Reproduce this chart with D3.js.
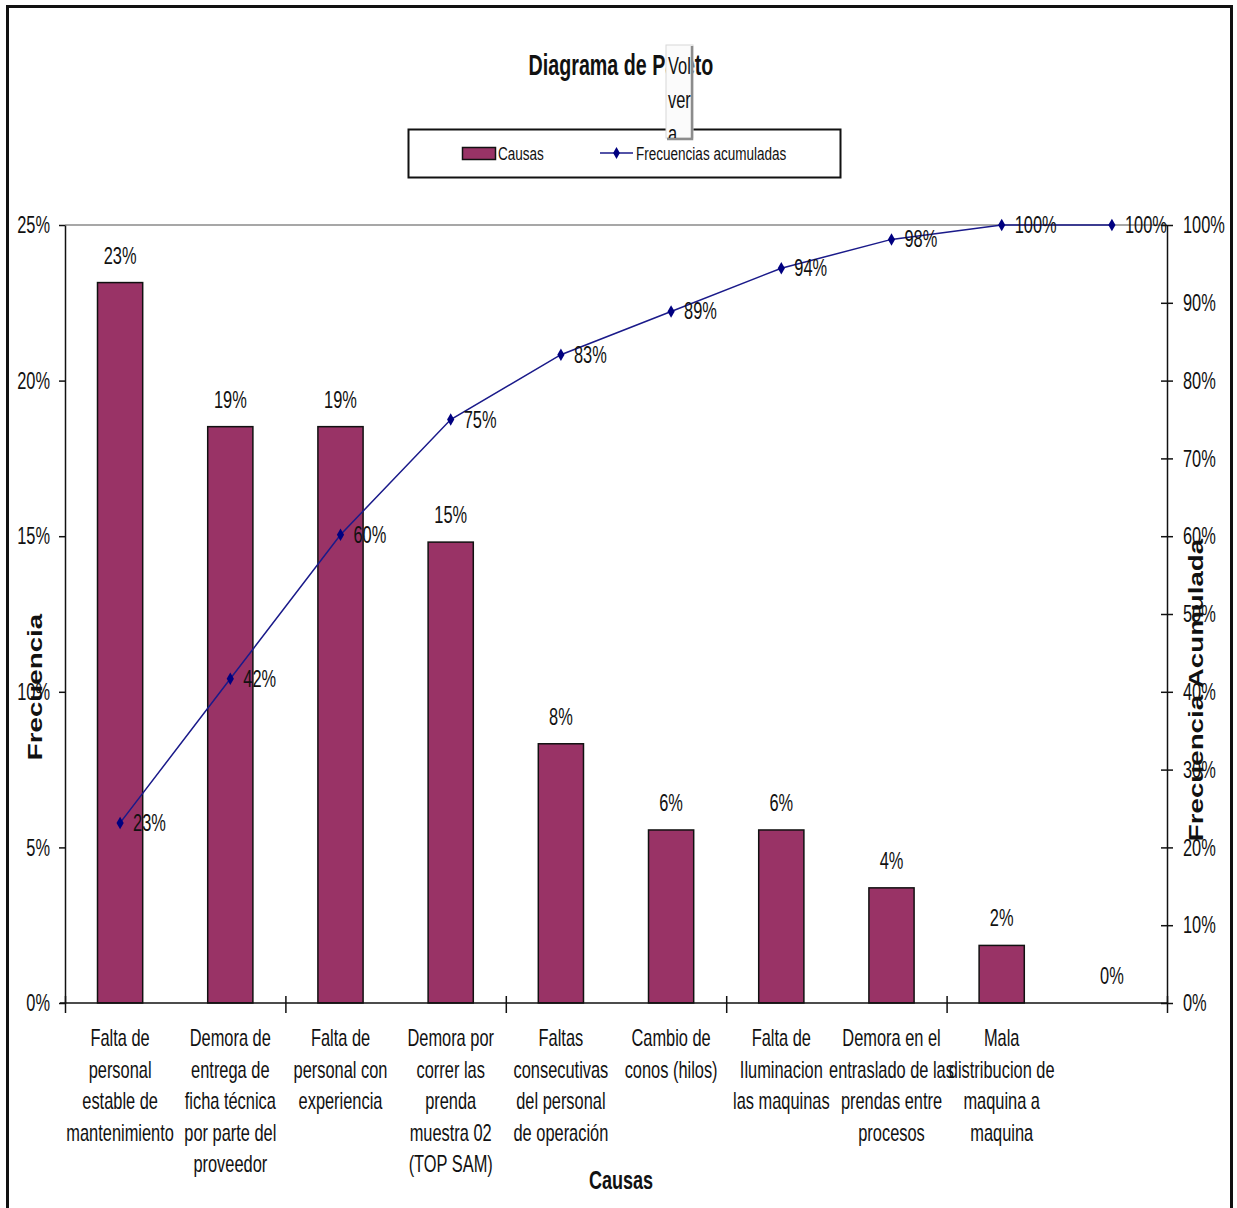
<!DOCTYPE html>
<html>
<head>
<meta charset="utf-8">
<script src="https://cdn.jsdelivr.net/npm/d3@7"></script>
<style>
  body { margin: 0; background: #fff; }
  svg { display: block; }
</style>
</head>
<body>
<div id="chart"></div>
<script>
// Pareto data: share of each cause and the running total (percent)
const causas = [
  ["Falta de", "personal", "estable de", "mantenimiento"],
  ["Demora de", "entrega de", "ficha técnica", "por parte del", "proveedor"],
  ["Falta de", "personal con", "experiencia"],
  ["Demora por", "correr las", "prenda", "muestra 02", "(TOP SAM)"],
  ["Faltas", "consecutivas", "del personal", "de operación"],
  ["Cambio de", "conos (hilos)"],
  ["Falta de", "Iluminacion", "las maquinas"],
  ["Demora en el", "entraslado de las", "prendas entre", "procesos"],
  ["Mala", "distribucion de", "maquina a", "maquina"],
  []
];
const frecuencia = [23.15, 18.52, 18.52, 14.81, 8.33, 5.56, 5.56, 3.70, 1.85, 0];
const acumulada = [23.15, 41.67, 60.19, 75.00, 83.33, 88.89, 94.44, 98.15, 100, 100];
const ticksIzq = [0, 5, 10, 15, 20, 25];
const ticksDer = [0, 10, 20, 30, 40, 50, 60, 70, 80, 90, 100];

// no narrow face installed, so Liberation Sans is squeezed horizontally
const FONT = "'Liberation Sans', Arial, sans-serif";
const SX = 0.82;       // narrow width
const SY = 1.2;        // text in this chart is drawn tall
const barColor = "#993366", lineColor = "#1a1a8a";

const W = 1237, H = 1208;
const plot = {left: 65, right: 1167, top: 225, bottom: 1003};

const svg = d3.select("#chart").append("svg")
  .attr("width", W).attr("height", H);

// outer frame
svg.append("rect")
  .attr("x", 7.5).attr("y", 6.5)
  .attr("width", 1224).attr("height", 1250)
  .attr("fill", "none").attr("stroke", "#111").attr("stroke-width", 3);

const idx = d3.range(causas.length);
const x = d3.scaleBand().domain(idx).range([plot.left, plot.right]);
const yL = d3.scaleLinear().domain([0, 25]).range([plot.bottom, plot.top]);
const yR = d3.scaleLinear().domain([0, 100]).range([plot.bottom, plot.top]);
const cx = i => x(i) + x.bandwidth() / 2;
const barW = x.bandwidth() * 0.41;

// helper: place a squeezed / stretched text label
function label(g, px, py, txt, opts) {
  opts = opts || {};
  const sx = opts.sx || SX, sy = opts.sy || SY;
  return g.append("text")
    .attr("transform", `translate(${px},${py})` + (opts.rot ? ` rotate(${opts.rot})` : "") + ` scale(${sx},${sy})`)
    .attr("text-anchor", opts.anchor || "middle")
    .style("font-family", FONT)
    .style("font-size", (opts.size || 20) + "px")
    .style("font-weight", opts.weight || "normal")
    .attr("fill", "#111")
    .text(txt);
}

// top border of the plot area
svg.append("line")
  .attr("x1", plot.left).attr("x2", plot.right)
  .attr("y1", yL(25)).attr("y2", yL(25))
  .attr("stroke", "#8a8a8a").attr("stroke-width", 1.5);

// bars
svg.append("g").selectAll("rect")
  .data(frecuencia)
  .join("rect")
  .attr("x", (d, i) => cx(i) - barW / 2)
  .attr("y", d => yL(d))
  .attr("width", barW)
  .attr("height", d => yL(0) - yL(d))
  .attr("fill", barColor)
  .attr("stroke", "#111").attr("stroke-width", 1.5);

// left axis
const axL = svg.append("g")
  .attr("transform", `translate(${plot.left},0)`)
  .call(d3.axisLeft(yL).tickValues(ticksIzq).tickFormat(d => d + "%").tickSize(6).tickSizeOuter(0));
axL.select(".domain").attr("stroke", "#111").attr("stroke-width", 1.5);
axL.selectAll(".tick line").attr("stroke", "#111").attr("stroke-width", 1.5);
axL.selectAll(".tick text")
  .attr("x", -15 / SX)
  .style("font-family", FONT).style("font-size", "20px").attr("fill", "#111")
  .attr("transform", `scale(${SX},${SY})`);

// right axis (cross ticks)
const axR = svg.append("g")
  .attr("transform", `translate(${plot.right},0)`)
  .call(d3.axisRight(yR).tickValues(ticksDer).tickFormat(d => d + "%").tickSize(6).tickSizeOuter(0));
axR.select(".domain").attr("stroke", "#111").attr("stroke-width", 1.5);
axR.selectAll(".tick line").attr("x1", -6).attr("stroke", "#111").attr("stroke-width", 1.5);
axR.selectAll(".tick text")
  .attr("x", 16 / SX)
  .style("font-family", FONT).style("font-size", "20px").attr("fill", "#111")
  .attr("transform", `scale(${SX},${SY})`);

// bottom axis: tick every two categories
const xb = d3.scaleLinear().domain([0, causas.length]).range([plot.left, plot.right]);
const axB = svg.append("g")
  .attr("transform", `translate(0,${plot.bottom})`)
  .call(d3.axisBottom(xb).tickValues(d3.range(0, causas.length + 1, 2)).tickFormat("").tickSize(10).tickSizeOuter(0));
axB.select(".domain").attr("stroke", "#111").attr("stroke-width", 1.5)
  .attr("d", `M${plot.left - 5},0H${plot.right}`);
axB.selectAll(".tick line").attr("y1", -7).attr("stroke", "#111").attr("stroke-width", 1.5);

// category labels
const cat = svg.append("g");
causas.forEach((lines, i) => {
  lines.forEach((t, j) => {
    label(cat, cx(i), 1046 + j * 31.5, t);
  });
});

// bar value labels
const vl = svg.append("g");
frecuencia.forEach((d, i) => {
  label(vl, cx(i), yL(d) - 19, Math.round(d) + "%");
});

// cumulative line
svg.append("path")
  .datum(acumulada)
  .attr("fill", "none")
  .attr("stroke", lineColor).attr("stroke-width", 1.5)
  .attr("d", d3.line().x((d, i) => cx(i)).y(d => yR(d)));

svg.append("g").selectAll("path")
  .data(acumulada)
  .join("path")
  .attr("transform", (d, i) => `translate(${cx(i)},${yR(d)})`)
  .attr("d", d3.symbol(d3.symbolDiamond, 45))
  .attr("fill", "#000080");

const cl = svg.append("g");
acumulada.forEach((d, i) => {
  label(cl, cx(i) + 13, yR(d) + 8, Math.round(d) + "%", {anchor: "start"});
});

// axis titles
label(svg, 42, 687, "Frecuencia", {weight: "bold", size: 21, sx: 1.32, sy: 1, rot: -90});
label(svg, 1203, 690, "Frecuencia Acumulada", {weight: "bold", size: 21, sx: 1.32, sy: 1, rot: -90});
label(svg, 621, 1189, "Causas", {weight: "bold", size: 22});

// title
label(svg, 621, 75, "Diagrama de Pareto", {weight: "bold", size: 24, sy: 1.25});

// legend
const lg = svg.append("g");
lg.append("rect")
  .attr("x", 408.5).attr("y", 129.5).attr("width", 432).attr("height", 48)
  .attr("fill", "#fff").attr("stroke", "#111").attr("stroke-width", 2);
lg.append("rect")
  .attr("x", 462.5).attr("y", 147.5).attr("width", 33).attr("height", 12)
  .attr("fill", barColor).attr("stroke", "#111").attr("stroke-width", 1.5);
label(lg, 498, 160, "Causas", {anchor: "start", size: 16.5, sy: 1.15});
lg.append("line")
  .attr("x1", 600).attr("x2", 633).attr("y1", 153).attr("y2", 153)
  .attr("stroke", lineColor).attr("stroke-width", 1.5);
lg.append("path")
  .attr("transform", "translate(616.5,153)")
  .attr("d", d3.symbol(d3.symbolDiamond, 40))
  .attr("fill", "#000080");
label(lg, 636, 160, "Frecuencias acumuladas", {anchor: "start", size: 16.5, sy: 1.15});

// "Volver a" sheet button sitting over the title
const btn = svg.append("g");
btn.append("clipPath").attr("id", "btnClip")
  .append("rect").attr("x", 666).attr("y", 45).attr("width", 27).attr("height", 93);
btn.append("rect")
  .attr("x", 666).attr("y", 45).attr("width", 27).attr("height", 93)
  .attr("fill", "#fbfbfb").attr("stroke", "#d8d8d8").attr("stroke-width", 1);
btn.append("path")
  .attr("d", "M692,46V139H667")
  .attr("fill", "none").attr("stroke", "#8c8c8c").attr("stroke-width", 2.5);
const bt = btn.append("g").attr("clip-path", "url(#btnClip)");
["Vol", "ver", "a"].forEach((t, j) => {
  label(bt, 668, 74 + j * 34, t, {anchor: "start", size: 20});
});
</script>
</body>
</html>
